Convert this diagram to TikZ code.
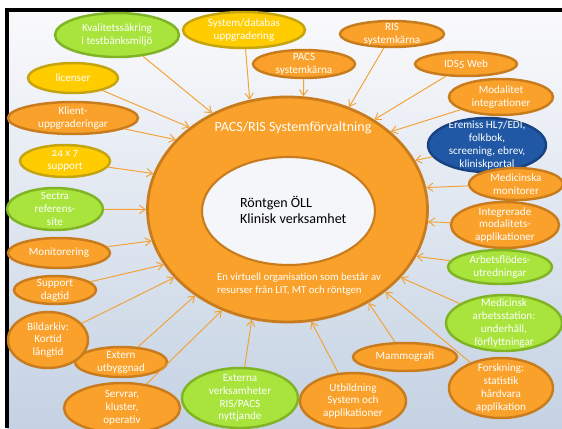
\documentclass[tikz,border=0pt]{standalone}
\usepackage{fontspec}
\setmainfont{Carlito}[Numbers=OldStyle]
\definecolor{bub_orange}{RGB}{249, 161, 42}
\definecolor{bub_orange_dk}{RGB}{201, 124, 30}
\definecolor{bub_green}{RGB}{168, 228, 60}
\definecolor{bub_green_dk}{RGB}{128, 180, 38}
\definecolor{bub_yellow}{RGB}{255, 204, 0}
\definecolor{bub_yellow_dk}{RGB}{198, 164, 16}
\definecolor{bub_blue}{RGB}{32, 88, 166}
\definecolor{bub_blue_dk}{RGB}{24, 66, 130}
\definecolor{arr_orange}{RGB}{245, 160, 48}
\definecolor{core_fill}{RGB}{244, 246, 249}
\definecolor{bg_top}{RGB}{250, 250, 252}
\definecolor{bg_bot}{RGB}{196, 210, 227}
\usetikzlibrary{arrows.meta, shapes.geometric}

\begin{document}
\begin{tikzpicture}[
        x=0.3mm, y=-0.3mm,
        bubble/.style={ellipse, line width=2.1pt, inner sep=0pt},
        sz/.style 2 args={minimum width=#1*0.6mm, minimum height=#2*0.6mm},
        orangebox/.style={bubble, draw=bub_orange_dk, fill=bub_orange},
        greenbox/.style={bubble, draw=bub_green_dk, fill=bub_green},
        yellowbox/.style={bubble, draw=bub_yellow_dk, fill=bub_yellow},
        bluebox/.style={bubble, draw=bub_blue_dk, fill=bub_blue},
        txt/.style={font=\fontsize{9.5}{11}\selectfont, text=white,
                    align=center, inner sep=0pt},
        ringbox/.style={ellipse, draw=bub_orange_dk, fill=bub_orange,
                        line width=2.4pt, inner sep=0pt},
        corebox/.style={ellipse, draw=bub_orange_dk, fill=core_fill,
                        line width=1.8pt, inner sep=0pt},
        arr/.style={-{Straight Barb[length=5pt, width=7pt]}, arr_orange,
                    line width=0.8pt},
      ]
        \useasboundingbox (0,0) rectangle (562,428);
        \fill[white] (0,0) rectangle (562,428);
        \shade[top color=bg_top, bottom color=bg_bot] (7,10) rectangle (562,428);
        \draw[black, line width=2.6pt] (562,10) -- (7,10) -- (7,428);

        \node[ringbox, sz={140}{112.5}] (ring) at (287.5,209.5) {};
        \node[corebox, sz={86.5}{54}] (core) at (288.5,211) {};
        \node[font=\fontsize{12}{13}\selectfont, text=white] (title)
          at (293,128) {PACS/RIS Systemförvaltning};
        \node[font=\fontsize{12}{13}\selectfont, align=left, anchor=west]
          (clin) at (236,210) {Röntgen ÖLL\\Klinisk verksamhet};
        \node[font=\fontsize{9.2}{11}\selectfont, text=white, align=left,
              anchor=west] (virt) at (213,284)
          {En virtuell organisation som består av\\resurser från LIT, MT och röntgen};

        \node[greenbox, sz={62}{22},
              label={[txt]center:Kvalitetssäkring\\i testbänksmiljö}] (kval) at (117,35) {};
        \node[yellowbox, sz={45}{15}, label={[txt]center:licenser}] (lic) at (73,78) {};
        \node[orangebox, sz={65}{16},
              label={[txt]center:Klient-\\uppgraderingar}] (klient) at (73,118) {};
        \node[yellowbox, sz={61}{18},
              label={[txt]center:System/databas\\uppgradering}] (sysdb) at (244,30) {};
        \node[orangebox, sz={51}{14},
              label={[txt]center:PACS\\systemkärna}] (pacs) at (304,64) {};
        \node[orangebox, sz={52}{13},
              label={[txt]center:RIS\\systemkärna}] (ris) at (392,34) {};
        \node[orangebox, sz={51}{12}, label={[txt]center:IDS5 Web}] (ids) at (466,64) {};
        \node[orangebox, sz={52}{18},
              label={[txt]center:Modalitet\\integrationer}] (modal) at (501,97) {};
        \node[bluebox, sz={59}{27},
              label={[txt]center:{Eremiss HL7/EDI,\\folkbok,\\screening, ebrev,\\kliniskportal}}]
          (erem) at (487,145) {};
        \node[orangebox, sz={47}{16},
              label={[txt]center:Medicinska\\monitorer}] (medmon) at (516,184) {};
        \node[orangebox, sz={54}{23},
              label={[txt]center:Integrerade\\modalitets-\\applikationer}] (integ) at (505,225) {};
        \node[greenbox, sz={52}{17},
              label={[txt]center:Arbetsflödes-\\utredningar}] (arbfl) at (500,267) {};
        \node[greenbox, sz={58}{28},
              label={[txt]center:{Medicinsk\\arbetsstation:\\underhåll,\\förflyttningar}}]
          (medarb) at (504,323) {};
        \node[orangebox, sz={52}{30},
              label={[txt]center:Forskning:\\statistik\\hårdvara\\applikation}] (forsk) at (501,388) {};
        \node[orangebox, sz={52}{14}, label={[txt]center:Mammografi}] (mammo) at (405,357) {};
        \node[orangebox, sz={53}{28},
              label={[txt]center:Utbildning\\System och\\applikationer}] (utb) at (353,401) {};
        \node[greenbox, sz={58}{30},
              label={[txt]center:Externa\\verksamheter\\RIS/PACS\\nyttjande}] (ext) at (240,398) {};
        \node[orangebox, sz={46}{15},
              label={[txt]center:Extern\\utbyggnad}] (extut) at (121,362) {};
        \node[orangebox, sz={58}{25},
              label={[txt]center:{Servrar,\\kluster,\\operativ}}] (serv) at (122,408) {};
        \node[orangebox, sz={40}{28},
              label={[txt]center:Bildarkiv:\\Kortid\\långtid}] (bild) at (48,340) {};
        \node[orangebox, sz={41}{14},
              label={[txt]center:Support\\dagtid}] (supd) at (55,290) {};
        \node[orangebox, sz={51}{15}, label={[txt]center:Monitorering}] (monit) at (59,253) {};
        \node[greenbox, sz={48}{21},
              label={[txt]center:Sectra\\referens-\\site}] (sectra) at (55,209) {};
        \node[yellowbox, sz={45}{16},
              label={[txt]center:24 x 7\\support}] (sup24) at (65,161) {};

        \draw[arr] (kval)   -- (ring.128);
        \draw[arr] (lic)    -- (ring.140.6);
        \draw[arr] (klient) -- (ring.148.7);
        \draw[arr] (sysdb)  -- (ring.109);
        \draw[arr] (pacs)   -- (ring.82.8);
        \draw[arr] (ris)    -- (ring.59.1);
        \draw[arr] (ids)    -- (ring.46.6);
        \draw[arr] (modal)  -- (ring.37.7);
        \draw[arr] (erem)   -- (ring.21.7);
        \draw[arr] (medmon) -- (ring.9.5);
        \draw[arr] (integ)  -- (ring.355.8);
        \draw[arr] (arbfl)  -- (ring.340);
        \draw[arr] (medarb) -- (ring.329.4);
        \draw[arr] (forsk)  -- (ring.320.8);
        \draw[arr] (mammo)  -- (ring.311.2);
        \draw[arr] (utb)    -- (ring.282.1);
        \draw[arr] (ext)    -- (ring.252);
        \draw[arr] (serv)   -- (ring.237.4);
        \draw[arr] (extut)  -- (ring.223.4);
        \draw[arr] (bild)   -- (ring.211.8);
        \draw[arr] (supd)   -- (ring.204);
        \draw[arr] (monit)  -- (ring.193.7);
        \draw[arr] (sectra) -- (ring.180);
        \draw[arr] (sup24)  -- (ring.165.7);
      \end{tikzpicture}
\end{document}
